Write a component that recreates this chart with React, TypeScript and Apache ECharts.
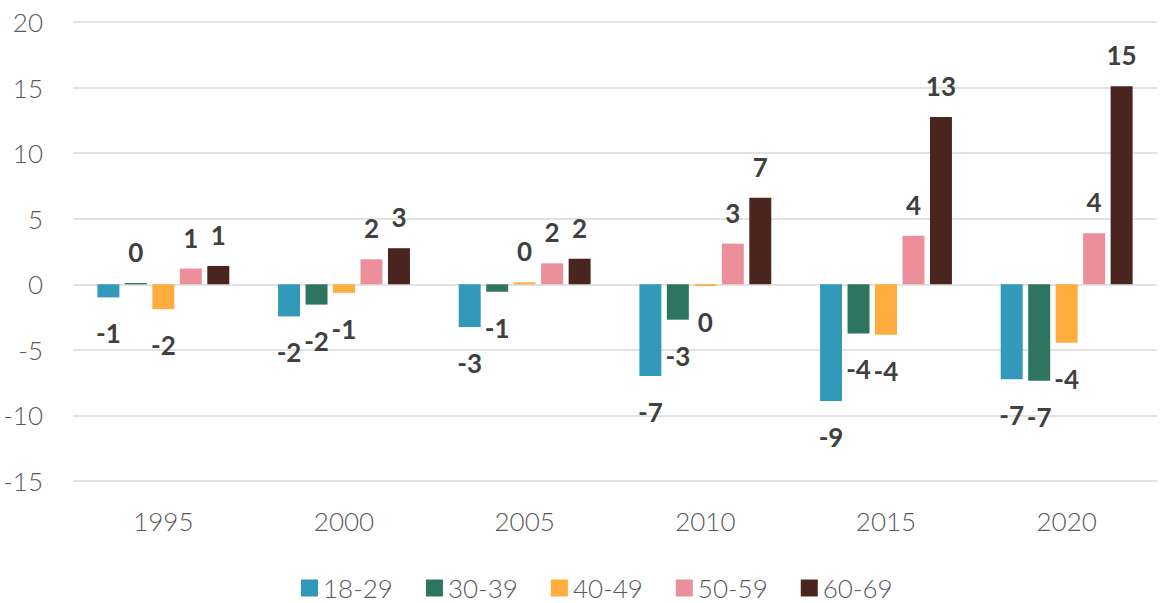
import React, { useEffect, useRef } from "react";
import * as echarts from "echarts";

const categories = ["1995", "2000", "2005", "2010", "2015", "2020"];
const ageGroups = ["18-29", "30-39", "40-49", "50-59", "60-69"];
const s18_29 = [-1.0, -2.45, -3.25, -7.0, -8.9, -7.25];
const s30_39 = [0.1, -1.55, -0.57, -2.7, -3.75, -7.35];
const s40_49 = [-1.9, -0.65, 0.15, -0.13, -3.85, -4.45];
const s50_59 = [1.2, 1.9, 1.6, 3.1, 3.7, 3.9];
const s60_69 = [1.4, 2.75, 1.95, 6.6, 12.75, 15.1];
const seriesValues = [s18_29, s30_39, s40_49, s50_59, s60_69];
const colors = ["#3399BA", "#2E7561", "#FFAD3F", "#EB8F9A", "#4A241F"];

const FONT = "Lato, 'Open Sans', sans-serif";

function fmt(v: number): string {
  const r = Math.round(v);
  return r === 0 ? "0" : String(r);
}

export default function App() {
  const ref = useRef<HTMLDivElement>(null);
  useEffect(() => {
    if (!ref.current) return;
    const chart = echarts.init(ref.current, undefined, { renderer: "svg" });
    chart.setOption({
      animation: false,
      backgroundColor: "#ffffff",
      textStyle: { fontFamily: FONT },
      grid: { left: 73, right: 8, top: 22, bottom: 122, containLabel: false },
      legend: {
        data: ageGroups,
        left: 296,
        top: 570,
        icon: "rect",
        itemWidth: 17,
        itemHeight: 17,
        itemGap: 33,
        textStyle: { fontSize: 26, color: "#595959", fontFamily: FONT, fontWeight: 300 },
      },
      xAxis: {
        type: "category",
        data: categories,
        axisLine: { show: false },
        axisTick: { show: false },
        axisLabel: { margin: 27, fontSize: 26, color: "#595959", fontFamily: FONT, fontWeight: 300 },
      },
      yAxis: {
        type: "value",
        min: -15,
        max: 20,
        interval: 5,
        axisLine: { show: false },
        axisTick: { show: false },
        axisLabel: { margin: 30, fontSize: 26, color: "#595959", fontFamily: FONT, fontWeight: 300 },
        splitLine: { lineStyle: { color: "#D9D9D9", width: 1.5 } },
      },
      series: ageGroups.map((name, i) => ({
        name,
        type: "bar",
        barGap: "25%",
        barCategoryGap: "27%",
        itemStyle: { color: colors[i] },
        data: seriesValues[i].map((v) => ({
          value: v,
          label: {
            show: true,
            position: v < 0 ? "bottom" : "top",
            distance: v < 0 ? 23 : 18,
            formatter: () => fmt(v),
            fontSize: 26,
            fontWeight: "bold",
            color: "#404040",
            fontFamily: FONT,
          },
        })),
      })),
    });
    return () => chart.dispose();
  }, []);
  return (
    <div
      ref={ref}
      style={{ position: "absolute", left: 0, top: 0, width: 1165, height: 603 }}
    />
  );
}
